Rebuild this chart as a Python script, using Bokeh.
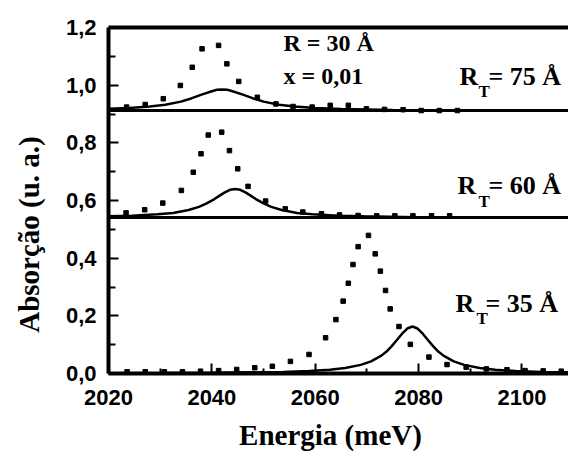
import math
from bokeh.plotting import figure
from bokeh.models import Label, FixedTicker
from bokeh.embed import file_html
from bokeh.resources import INLINE

# ---- data ----
# top panel, R_T = 75 A
top_line_e = [2020, 2024, 2028, 2031, 2034, 2036, 2038, 2040, 2041, 2042, 2043, 2044, 2046, 2048,
              2050, 2053, 2056, 2060, 2065, 2075, 2090, 2109]
top_line_a = [0.918, 0.921, 0.926, 0.932, 0.943, 0.954, 0.967, 0.979, 0.984, 0.985, 0.984, 0.979,
              0.967, 0.954, 0.943, 0.932, 0.926, 0.921, 0.917, 0.914, 0.912, 0.911]
top_dot_e = [2023.5, 2027.1, 2030.6, 2033.9, 2036.2, 2038.1, 2041.3, 2042.9, 2045.2, 2048.8, 2052.4,
             2055.7, 2059.4, 2062.9, 2066.4, 2069.9, 2073.4, 2077.0, 2080.5, 2084.0, 2087.5]
top_dot_a = [0.924, 0.933, 0.953, 0.999, 1.062, 1.126, 1.138, 1.074, 1.013, 0.958, 0.935,
             0.926, 0.924, 0.930, 0.930, 0.918, 0.916, 0.915, 0.912, 0.912, 0.912]

# middle panel, R_T = 60 A
mid_line_e = [2020, 2024.5, 2029.5, 2032.5, 2035.5, 2037.5, 2039, 2040.5, 2041.5, 2042.5, 2043.5,
              2044.5, 2045.5, 2046.5, 2047.5, 2048.5, 2050, 2051.5, 2053.5, 2056.5, 2059.5, 2064.5,
              2069.5, 2079.5, 2094.5, 2109]
mid_line_a = [0.545, 0.547, 0.552, 0.557, 0.567, 0.578, 0.590, 0.605, 0.617, 0.628, 0.637,
              0.640, 0.637, 0.628, 0.617, 0.605, 0.590, 0.578, 0.567, 0.557, 0.552, 0.547,
              0.545, 0.542, 0.541, 0.541]
mid_dot_e = [2023.4, 2027.0, 2030.5, 2034.1, 2036.4, 2037.9, 2039.3, 2041.9, 2043.4, 2045.0, 2047.0,
             2050.4, 2054.2, 2057.6, 2061.2, 2064.7, 2068.3, 2071.9, 2075.4, 2078.9, 2082.5, 2086.0]
mid_dot_a = [0.557, 0.568, 0.591, 0.635, 0.698, 0.762, 0.827, 0.837, 0.773, 0.710, 0.649,
             0.598, 0.571, 0.560, 0.554, 0.550, 0.548, 0.547, 0.547, 0.547, 0.547, 0.547]

# bottom panel, R_T = 35 A
bot_line_e = [2020, 2030, 2040, 2048.8, 2053.8, 2058.8, 2062.8, 2065.8, 2068.8, 2070.8, 2072.8,
              2073.8, 2074.8, 2075.8, 2076.8, 2077.8, 2078.8, 2079.8, 2080.8, 2081.8, 2082.8,
              2083.8, 2084.8, 2086.8, 2088.8, 2091.8, 2094.8, 2098.8, 2103.8, 2109]
bot_line_a = [0.001, 0.0015, 0.0024, 0.004, 0.0055, 0.0085, 0.013, 0.019, 0.030, 0.042, 0.062,
              0.076, 0.095, 0.116, 0.138, 0.156, 0.163, 0.156, 0.138, 0.116, 0.095,
              0.076, 0.062, 0.042, 0.030, 0.019, 0.013, 0.0085, 0.0055, 0.004]
bot_dot_e = [2023.6, 2027.1, 2030.8, 2034.3, 2037.8, 2041.3, 2044.8, 2048.3, 2051.7, 2055.2, 2058.8,
             2062.0, 2064.0, 2065.4, 2066.4, 2067.3, 2068.3, 2070.3, 2071.6, 2072.6, 2073.6,
             2074.5, 2076.2, 2078.4, 2082.0, 2085.5, 2089.2, 2093.1, 2097.1, 2100.6, 2104.1, 2107.6]
bot_dot_a = [0.006, 0.006, 0.006, 0.006, 0.008, 0.010, 0.014, 0.020, 0.025, 0.042, 0.066,
             0.124, 0.187, 0.251, 0.313, 0.378, 0.440, 0.479, 0.415, 0.355, 0.288,
             0.224, 0.163, 0.101, 0.057, 0.031, 0.022, 0.016, 0.013, 0.010, 0.009, 0.008]

panel_baselines = [0.912, 0.541]
rt_values = ["75", "60", "35"]
x_ticks = [2020, 2040, 2060, 2080, 2100]
x_minor = [2030, 2050, 2070, 2090]
y_ticks = [0.0, 0.2, 0.4, 0.6, 0.8, 1.0, 1.2]
y_tick_labels = ["0,0", "0,2", "0,4", "0,6", "0,8", "1,0", "1,2"]
y_minor = [0.1, 0.3, 0.5, 0.7, 0.9, 1.1]
x_title = "Energia (meV)"
y_title = "Absorção (u. a.)"

# ---- layout: axes drawn inside a full-canvas frame ----
W, H = 568, 456
X_LO, X_HI = 2020, 2109
Y_LO, Y_HI = 0.0, 1.2
LEFT_PX, TOP_PX, BOTTOM_PX = 108, 27, 83
sx = (W - LEFT_PX) / (X_HI - X_LO)
sy = (H - TOP_PX - BOTTOM_PX) / (Y_HI - Y_LO)

def at(px, py):
    """canvas pixel -> data coordinates"""
    return X_LO + (px - LEFT_PX) / sx, Y_LO + (H - BOTTOM_PX - py) / sy

SERIF = "Liberation Serif"
SANS = "Liberation Sans"

p = figure(width=W, height=H,
           x_range=(X_LO - LEFT_PX / sx, X_HI),
           y_range=(Y_LO - BOTTOM_PX / sy, Y_HI + TOP_PX / sy),
           output_backend="svg", toolbar_location=None,
           min_border_left=0, min_border_right=0, min_border_top=0, min_border_bottom=0)
p.grid.visible = False
p.outline_line_color = None
p.background_fill_color = "white"
p.border_fill_color = "white"

xa, ya = p.xaxis[0], p.yaxis[0]
xa.fixed_location = Y_LO
ya.fixed_location = X_LO
xa.bounds = (X_LO, X_HI)
ya.bounds = (Y_LO, Y_HI)
xa.ticker = FixedTicker(ticks=x_ticks, minor_ticks=x_minor)
ya.ticker = FixedTicker(ticks=y_ticks, minor_ticks=y_minor)
ya.major_label_overrides = {t: l for t, l in zip(y_ticks, y_tick_labels)}
for ax in (xa, ya):
    ax.axis_line_width = 4
    ax.axis_line_color = "black"
    ax.major_tick_in = 10
    ax.major_tick_out = 0
    ax.minor_tick_out = 0
    ax.major_tick_line_width = 2
    ax.minor_tick_line_width = 2
    ax.major_tick_line_color = "black"
    ax.minor_tick_line_color = "black"
    ax.major_label_text_font = SANS
    ax.major_label_text_font_style = "bold"
    ax.major_label_text_font_size = "22px"
    ax.major_label_text_color = "black"
xa.minor_tick_in = 5
ya.minor_tick_in = 7
xa.major_label_standoff = 16
ya.major_label_standoff = 12

# frame top line and panel separators
p.segment(x0=[X_LO], y0=[Y_HI], x1=[X_HI], y1=[Y_HI], line_color="black", line_width=4)
p.segment(x0=[X_LO] * len(panel_baselines), y0=panel_baselines,
          x1=[X_HI] * len(panel_baselines), y1=panel_baselines,
          line_color="black", line_width=3)

for le, la, de, da in ((top_line_e, top_line_a, top_dot_e, top_dot_a),
                       (mid_line_e, mid_line_a, mid_dot_e, mid_dot_a),
                       (bot_line_e, bot_line_a, bot_dot_e, bot_dot_a)):
    p.line(le, la, line_color="black", line_width=2.5)
    p.scatter(de, da, marker="square", size=4.5, color="black")

def txt(px, py, s, size, **kw):
    x, y = at(px, py)
    p.add_layout(Label(x=x, y=y, text=s, text_font=SERIF, text_font_style="bold",
                       text_font_size=size, text_color="black", **kw))

# R_T labels: R, subscript T, rest  (pixel positions of the reference)
for (rx, ry, tx, ty, ex), val in zip(((459, 90, 478, 100, 488),
                                      (457, 199, 478, 210, 488),
                                      (455, 317, 476, 327, 485)), rt_values):
    txt(rx, ry, "R", "26px")
    txt(tx, ty, "T", "17px")
    txt(ex, ry, "= " + val + " Å", "26px")

txt(283, 55, "R = 30 Å", "24px")
txt(283, 88, "x = 0,01", "24px")

# axis titles
txt(330, 450, x_title, "29px", text_align="center")
txt(28, 234, y_title, "29px", text_align="center", text_baseline="middle", angle=math.pi / 2)

open("out.html", "w").write(file_html(p, INLINE))
